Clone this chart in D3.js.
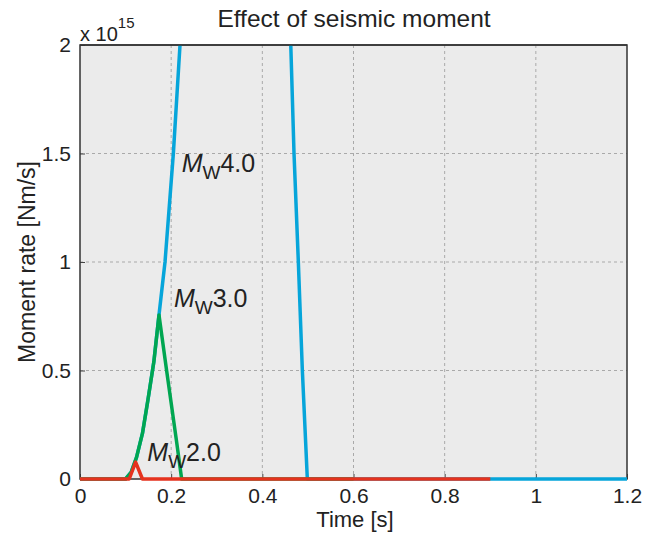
<!DOCTYPE html>
<html lang="en">
<head>
  <meta charset="UTF-8">
  <title>Effect of seismic moment</title>
  <script src="https://d3js.org/d3.v7.min.js"></script>
  <style>
    body { margin: 0; background: #fff; }
    text { font-family: "Liberation Sans", Arial, sans-serif; fill: #222; }
  </style>
</head>
<body>
  <svg id="chart" width="647" height="534"></svg>
  <script>
    // time [s], moment rate [1e15 Nm/s]
    const mw4 = [[0, 0], [0.1, 0], [0.112, 0.03], [0.124, 0.1], [0.137, 0.21], [0.149, 0.364],
      [0.162, 0.54], [0.1733, 0.756], [0.1865, 1.0], [0.2048, 1.5], [0.2194, 2.0], [0.36, 8.5],
      [0.4624, 2.0], [0.4695, 1.5], [0.479, 1.0], [0.4878, 0.5], [0.4987, 0], [1.2, 0]];
    const mw3 = [[0, 0], [0.1, 0], [0.112, 0.03], [0.124, 0.1], [0.137, 0.21], [0.149, 0.364],
      [0.162, 0.54], [0.1733, 0.756], [0.19, 0.5], [0.212, 0.17], [0.223, 0], [0.6, 0]];
    const mw2 = [[0, 0], [0.108, 0], [0.122, 0.078], [0.137, 0], [0.9, 0]];

    const xTicks = [0, 0.2, 0.4, 0.6, 0.8, 1, 1.2];
    const yTicks = [0, 0.5, 1, 1.5, 2];

    // label text, anchor point in data units
    const labels = [
      { mag: "4.0", t: 0.223, v: 1.415 },
      { mag: "3.0", t: 0.206, v: 0.794 },
      { mag: "2.0", t: 0.1477, v: 0.083 }
    ];

    const series = [
      { data: mw4, color: "#06a5da" },
      { data: mw3, color: "#00a651" },
      { data: mw2, color: "#e5321e" }
    ];

    const svg = d3.select("#chart");
    const margin = { top: 45, right: 20, bottom: 55, left: 80 };
    const width = 647 - margin.left - margin.right;
    const height = 534 - margin.top - margin.bottom;

    const x = d3.scaleLinear().domain([0, 1.2]).range([0, width]);
    const y = d3.scaleLinear().domain([0, 2]).range([height, 0]);

    svg.append("text")
      .attr("x", 354).attr("y", 27)
      .attr("text-anchor", "middle")
      .style("font-size", "24.5px")
      .text("Effect of seismic moment");

    const g = svg.append("g")
      .attr("transform", "translate(" + margin.left + "," + margin.top + ")");

    g.append("rect")
      .attr("width", width).attr("height", height)
      .attr("fill", "#ebebeb");

    // grid
    g.append("g").selectAll("line").data(xTicks.slice(1, -1))
      .join("line")
      .attr("x1", d => x(d)).attr("x2", d => x(d))
      .attr("y1", 0).attr("y2", height)
      .attr("stroke", "#a9a9a9").attr("stroke-dasharray", "3,3");
    g.append("g").selectAll("line").data(yTicks.slice(1, -1))
      .join("line")
      .attr("y1", d => y(d)).attr("y2", d => y(d))
      .attr("x1", 0).attr("x2", width)
      .attr("stroke", "#a9a9a9").attr("stroke-dasharray", "3,3");

    // axes (inward ticks)
    const xAxis = g.append("g")
      .attr("transform", "translate(0," + height + ")")
      .call(d3.axisBottom(x).tickValues(xTicks).tickSize(-5).tickPadding(10)
        .tickFormat(d3.format("~g")));
    const yAxis = g.append("g")
      .call(d3.axisLeft(y).tickValues(yTicks).tickSize(-5).tickPadding(9)
        .tickFormat(d3.format("~g")));
    [xAxis, yAxis].forEach(a => {
      a.select(".domain").remove();
      a.selectAll(".tick line").attr("stroke", "#444");
      a.selectAll(".tick text").style("font-size", "21px")
        .style("font-family", "'Liberation Sans', Arial, sans-serif").attr("fill", "#222");
    });
    xAxis.selectAll(".tick text").attr("dy", "0.68em");

    g.append("rect")
      .attr("width", width).attr("height", height)
      .attr("fill", "none").attr("stroke", "#333").attr("stroke-width", 1.5);

    g.append("clipPath").attr("id", "clip")
      .append("rect").attr("x", -3).attr("width", width + 6).attr("height", height + 3);

    const line = d3.line().x(d => x(d[0])).y(d => y(d[1]));
    g.append("g").attr("clip-path", "url(#clip)")
      .selectAll("path").data(series)
      .join("path")
      .attr("d", d => line(d.data))
      .attr("fill", "none")
      .attr("stroke", d => d.color)
      .attr("stroke-width", 3.5)
      .attr("stroke-linejoin", "round");

    // top edge of the frame stays over the clipped curves
    g.append("line")
      .attr("x1", 0).attr("x2", width).attr("y1", 0).attr("y2", 0)
      .attr("stroke", "#333").attr("stroke-width", 1.5);

    // M_W labels
    const lab = g.selectAll("text.mw").data(labels)
      .join("text").attr("class", "mw")
      .attr("x", d => x(d.t)).attr("y", d => y(d.v))
      .style("font-size", "25px");
    lab.append("tspan").style("font-style", "italic").text("M");
    lab.append("tspan").attr("dy", 7).style("font-size", "19px").text("W");
    lab.append("tspan").attr("dy", -7).text(d => d.mag);

    // exponent
    const ex = svg.append("text").attr("x", 80).attr("y", 41).style("font-size", "20px");
    ex.append("tspan").text("x 10");
    ex.append("tspan").attr("dy", -13).style("font-size", "15px").text("15");

    svg.append("text")
      .attr("x", 355).attr("y", 527)
      .attr("text-anchor", "middle")
      .style("font-size", "22px")
      .text("Time [s]");

    svg.append("text")
      .attr("transform", "translate(35,262) rotate(-90)")
      .attr("text-anchor", "middle")
      .style("font-size", "23px")
      .text("Moment rate [Nm/s]");
  </script>
</body>
</html>
